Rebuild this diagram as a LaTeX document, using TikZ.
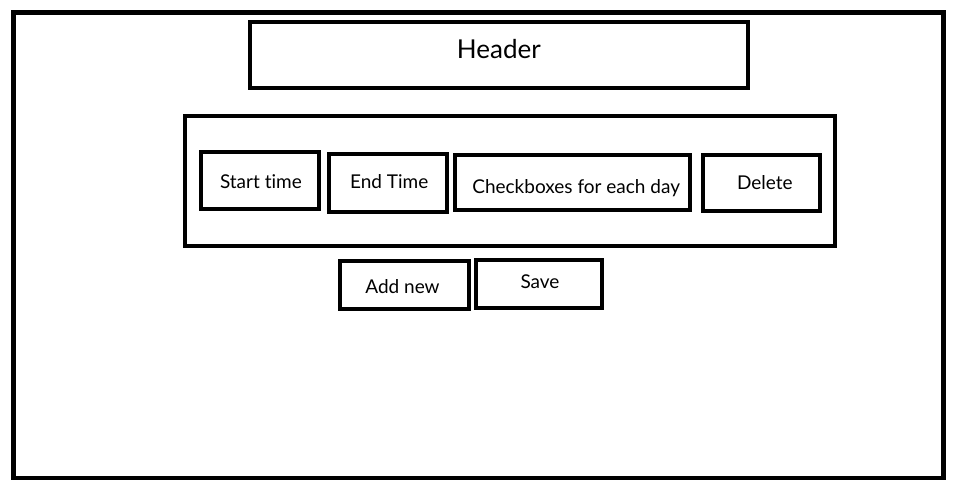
\documentclass[tikz,border=0pt]{standalone}
\usepackage{fontspec}
\setmainfont{Lato}[Ligatures=NoCommon]
\begin{document}
\begin{tikzpicture}[x=0.75pt, y=-0.75pt,
  box/.style={draw=black, line width=3pt, rectangle, inner sep=0pt, outer sep=0pt},
  wh/.style 2 args={minimum width=#1*0.75pt, minimum height=#2*0.75pt},
  lbl/.style={anchor=base, inner sep=0pt, font=\fontsize{14.25pt}{16pt}\selectfont},
  title/.style={anchor=base, inner sep=0pt, font=\fontsize{19.5pt}{22pt}\selectfont}]
  \useasboundingbox (0,0) rectangle (954,491);
  % page frame
  \node[box, line width=3.2pt, wh={930}{465.5}] (page) at (478.5,245.25) {};
  % header bar
  \node[box, wh={498}{66}] (header) at (498.5,55.5) {};
  \node[title] (headertxt) at (498.8,58.2) {Header};
  % row of fields
  \node[box, wh={650}{130.5}] (row) at (510,181.25) {};
  \node[box, wh={117.7}{57.3}] (start) at (259.85,180.65) {};
  \node[lbl] (starttxt) at (260.9,188.2) {Start time};
  \node[box, wh={118.6}{57.7}] (end) at (388,183.15) {};
  \node[lbl] (endtxt) at (389.2,188.8) {End Time};
  \node[box, wh={234.2}{55}] (days) at (572.4,182.8) {};
  \node[lbl] (daystxt) at (576.2,193.2) {Checkboxes for each day};
  \node[box, wh={117.6}{56.6}] (delete) at (761.5,183) {};
  \node[lbl] (deletetxt) at (764.8,189.8) {Delete};
  % buttons
  \node[box, wh={128.4}{47.4}] (addnew) at (404.5,285) {};
  \node[lbl] (addnewtxt) at (402.5,293.8) {Add new};
  \node[box, wh={125.8}{48}] (save) at (539.1,284.3) {};
  \node[lbl] (savetxt) at (540,288.2) {Save};
\end{tikzpicture}
\end{document}
